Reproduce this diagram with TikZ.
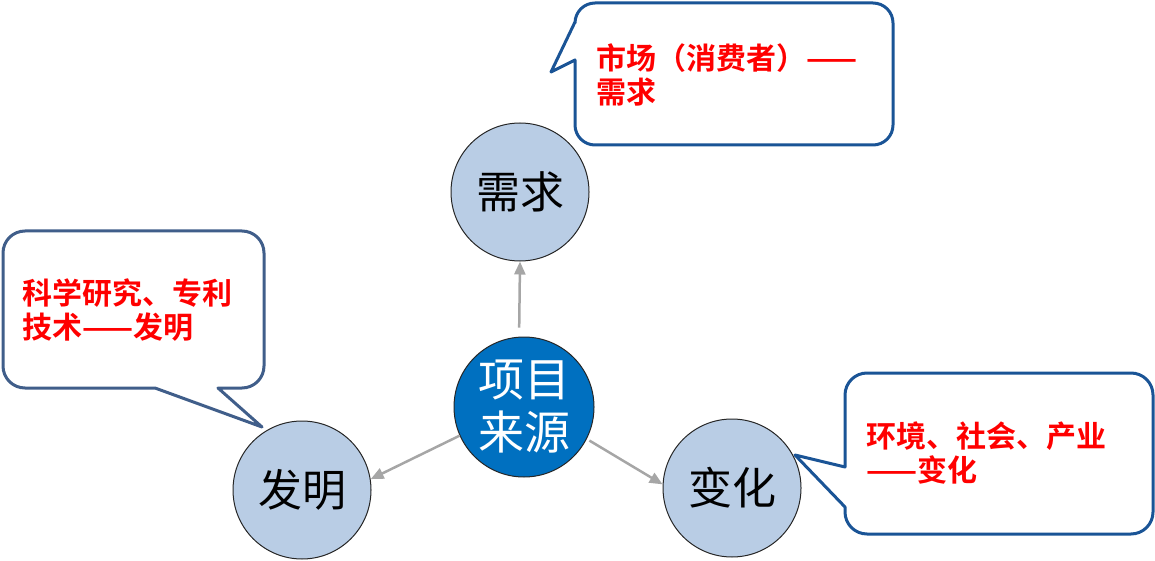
\documentclass[tikz,border=0pt]{standalone}
\usepackage{fontspec}
\newfontfamily\cjk[BoldFont={Noto Sans CJK SC Bold}]{Noto Sans CJK SC}
\usepackage{tikz}
\usetikzlibrary{arrows.meta}

\definecolor{nodeblue}{RGB}{185,205,229}
\definecolor{coreblue}{RGB}{0,112,192}
\definecolor{boxblue}{RGB}{26,84,150}
\definecolor{boxgray}{RGB}{64,94,138}
\definecolor{linkgray}{RGB}{166,166,166}
\definecolor{notered}{RGB}{255,0,0}

\begin{document}
\begin{tikzpicture}[x=1pt, y=-1pt,
  topic/.style={circle, draw=black!85, line width=1pt, fill=nodeblue,
    minimum size=138pt, inner sep=0pt,
    font=\cjk\fontsize{44}{50}\selectfont},
  core/.style={topic, fill=coreblue, minimum size=140pt, text=white,
    align=center, font=\cjk\fontsize{46}{53}\selectfont},
  link/.style={line width=2.5pt, linkgray,
    -{Triangle[length=13pt, width=11pt]}},
  bubble/.style={line width=3pt, fill=white, line join=round},
  note/.style={anchor=west, align=left, text=notered, inner sep=0pt,
    font=\cjk\bfseries\fontsize{30}{34}\selectfont}
]
  \useasboundingbox (0,0) rectangle (1155,561);

  % === Callout bubbles ===
  \draw[bubble, draw=boxblue] (551,72) -- (575,60) [rounded corners=20]
    -- (575,145) -- (893,145) -- (893,3) -- (575,3)
    [sharp corners] -- (575,22) -- cycle;
  \draw[bubble, draw=boxgray] (262,427) -- (218,388) [rounded corners=22]
    -- (264,388) -- (264,231) -- (3,231) -- (3,388)
    [sharp corners] -- (155,388) -- cycle;
  \draw[bubble, draw=boxblue] (795,455) -- (845,467) [rounded corners=22]
    -- (845,373) -- (1153,373) -- (1153,534) -- (845,534)
    [sharp corners] -- (845,507) -- cycle;

  % Notes
  \node[note] (need-note) at (596,75) {市场（消费者）——\\需求};
  \node[note] (inv-note) at (22,310) {科学研究、专利\\技术——发明};
  \node[note] (chg-note) at (866,453.5) {环境、社会、产业\\——变化};

  % === Topics ===
  \node[core] (src) at (524,407) {项目\\来源};
  \node[topic] (need) at (520,192) {需求};
  \node[topic] (inv) at (302,490) {发明};
  \node[topic] (chg) at (732,488) {变化};

  % Links
  \draw[link, shorten <=9pt] (src.94) -- (need.south);
  \draw[link] (src.204) -- (inv.9);
  \draw[link, shorten <=3pt] (src.-27) -- (chg.177);
\end{tikzpicture}
\end{document}
